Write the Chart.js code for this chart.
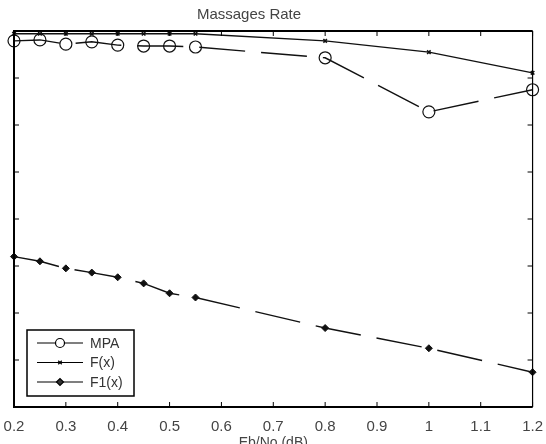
<!DOCTYPE html>
<html>
<head>
<meta charset="utf-8">
<script src="https://cdn.jsdelivr.net/npm/chart.js@4/dist/chart.umd.min.js"></script>
<style>
    html, body { margin: 0; padding: 0; background: #fff; overflow: hidden; }
    #wrap { position: absolute; left: -40px; top: 0; width: 586px; height: 452px; }
</style>
</head>
<body>
<div id="wrap"><canvas id="rateChart"></canvas></div>
<script>
// Eb/No (dB)
const ebNo = [0.2, 0.25, 0.3, 0.35, 0.4, 0.45, 0.5, 0.55, 0.8, 1.0, 1.2];
const xTicks = [0.2, 0.3, 0.4, 0.5, 0.6, 0.7, 0.8, 0.9, 1.0, 1.1, 1.2];
const yTicks = [0, 1, 2, 3, 4, 5, 6, 7, 8];

const mpa = [7.79, 7.81, 7.72, 7.77, 7.70, 7.68, 7.68, 7.66, 7.43, 6.28, 6.75];
const fx  = [7.94, 7.94, 7.94, 7.94, 7.94, 7.94, 7.94, 7.94, 7.79, 7.55, 7.11];
const f1x = [3.20, 3.10, 2.95, 2.86, 2.76, 2.63, 2.42, 2.33, 1.68, 1.25, 0.74];

const FONT = '"Liberation Sans", Arial, sans-serif';

function pts(arr) {
    return ebNo.map((x, i) => ({ x: x, y: arr[i] }));
}

// khung trục kiểu Matlab + legend trong vùng vẽ
const boxTicks = {
    id: 'boxTicks',
    afterDraw(chart) {
        const ctx = chart.ctx;
        const a = chart.chartArea;
        const sx = chart.scales.x, sy = chart.scales.y;
        ctx.save();
        ctx.strokeStyle = '#000';
        ctx.lineWidth = 2;
        ctx.beginPath();
        ctx.moveTo(a.right, a.top);
        ctx.lineTo(a.left, a.top);
        ctx.lineTo(a.left, a.bottom);
        ctx.lineTo(a.right, a.bottom);
        ctx.stroke();
        ctx.lineWidth = 1.2;
        ctx.beginPath();
        ctx.moveTo(a.right, a.top);
        ctx.lineTo(a.right, a.bottom);
        ctx.stroke();

        ctx.lineWidth = 1;
        ctx.beginPath();
        xTicks.forEach(v => {
            const px = sx.getPixelForValue(v);
            ctx.moveTo(px, a.bottom); ctx.lineTo(px, a.bottom - 5);
            ctx.moveTo(px, a.top); ctx.lineTo(px, a.top + 5);
        });
        yTicks.forEach(v => {
            const py = sy.getPixelForValue(v);
            ctx.moveTo(a.left, py); ctx.lineTo(a.left + 5, py);
            ctx.moveTo(a.right, py); ctx.lineTo(a.right - 5, py);
        });
        ctx.stroke();

        // legend
        const lx = a.left + 13, lw = 107, lh = 66;
        const ly = a.bottom - 11 - lh;
        ctx.fillStyle = '#fff';
        ctx.fillRect(lx, ly, lw, lh);
        ctx.lineWidth = 1.5;
        ctx.strokeRect(lx, ly, lw, lh);
        ctx.font = '14px ' + FONT;
        ctx.textBaseline = 'middle';
        chart.data.datasets.forEach((ds, i) => {
            const ry = ly + 13 + i * 19.5;
            ctx.strokeStyle = '#000';
            ctx.lineWidth = 1.2;
            ctx.beginPath();
            ctx.moveTo(lx + 10, ry);
            ctx.lineTo(lx + 56, ry);
            ctx.stroke();
            Chart.helpers.drawPoint(ctx, {
                pointStyle: ds.pointStyle,
                radius: ds.pointStyle === 'circle' ? 4.5 : ds.pointRadius,
                borderWidth: ds.pointBorderWidth || 1,
                rotation: 0
            }, lx + 33, ry);
            ctx.fillStyle = '#333';
            ctx.fillText(ds.label, lx + 63, ry + 1);
        });
        ctx.restore();
    }
};

const ctx = document.getElementById('rateChart').getContext('2d');
const rateChart = new Chart(ctx, {
    type: 'line',
    data: {
        datasets: [
            {
                label: 'MPA',
                data: pts(mpa),
                borderColor: '#111',
                borderWidth: 1.4,
                borderDash: [46, 16],
                pointStyle: 'circle',
                pointRadius: 6,
                pointBorderWidth: 1.2,
                pointBorderColor: '#111',
                pointBackgroundColor: 'rgba(0,0,0,0)',
                clip: false
            },
            {
                label: 'F(x)',
                data: pts(fx),
                borderColor: '#111',
                borderWidth: 1.4,
                pointStyle: 'crossRot',
                pointRadius: 2.5,
                pointBorderWidth: 1.5,
                pointBorderColor: '#111',
                pointBackgroundColor: '#111',
                clip: false
            },
            {
                label: 'F1(x)',
                data: pts(f1x),
                borderColor: '#111',
                borderWidth: 1.4,
                borderDash: [46, 16],
                pointStyle: 'rectRot',
                pointRadius: 3.5,
                pointBorderWidth: 1,
                pointBorderColor: '#111',
                pointBackgroundColor: '#111',
                clip: false
            }
        ]
    },
    options: {
        responsive: true,
        maintainAspectRatio: false,
        animation: false,
        layout: { autoPadding: false, padding: { left: 0, right: 8, top: 0, bottom: 0 } },
        scales: {
            x: {
                type: 'linear',
                min: 0.2,
                max: 1.2,
                afterBuildTicks: s => { s.ticks = xTicks.map(v => ({ value: v })); },
                afterFit: s => { s.height = 45; },
                grid: { display: false },
                border: { display: false },
                ticks: {
                    color: '#444',
                    padding: 3,
                    maxRotation: 0,
                    font: { family: FONT, size: 15 },
                    callback: v => String(Math.round(v * 10) / 10)
                },
                title: {
                    display: true,
                    text: 'Eb/No (dB)',
                    color: '#444',
                    padding: { top: 0, bottom: 0 },
                    font: { family: FONT, size: 14 }
                }
            },
            y: {
                min: 0,
                max: 8,
                afterBuildTicks: s => { s.ticks = yTicks.map(v => ({ value: v })); },
                afterFit: s => { s.width = 54; },
                grid: { display: false },
                border: { display: false },
                ticks: { display: false }
            }
        },
        plugins: {
            legend: { display: false },
            tooltip: { enabled: false },
            title: {
                display: true,
                text: 'Massages Rate',
                color: '#444',
                padding: { top: 6, bottom: 7 },
                font: { family: FONT, size: 15, weight: 'normal' }
            }
        }
    },
    plugins: [boxTicks]
});
</script>
</body>
</html>
